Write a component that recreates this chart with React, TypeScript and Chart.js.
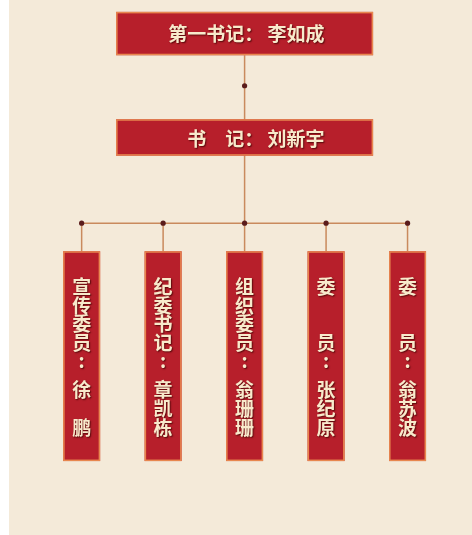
import React, { useEffect, useRef } from 'react';
import { Chart, registerables } from 'chart.js';

Chart.register(...registerables);

// ---- data ----
const leaderTitles = ['第一书记：', '书　记：'];
const leaderNames = ['李如成', '刘新宇'];
const memberTitles = ['宣传委员', '纪委书记', '组织委员', '委　　员', '委　　员'];
const memberNames = ['徐　鹏', '章凯栋', '翁珊珊', '张纪原', '翁苏波'];

// ---- layout / style ----
const W = 472;
const H = 535;
const STRIP = 9;
const X_MIN = -0.953;
const X_MAX = 4.742;
const CENTER_INDEX = (memberNames.length - 1) / 2;
const LEADER_BOXES = [
  { top: 8, bottom: 52, halfW: 128.5 },
  { top: 117, bottom: 154, halfW: 128.5 },
];
const MID_DOT_Y = 83;
const BRANCH_Y = 222.5;
const MEMBER_TOP = 251;
const MEMBER_BOTTOM = 464;
const MEMBER_HALF_W = 18.5;
const TITLE_Y0 = 287;
const STEP = 19;
const COLON_Y = 362;
const NAME_Y0 = 392;

const BG = '#f4ead9';
const RED = '#b71f2b';
const BORDER = '#e8874f';
const LINE = '#c98a5d';
const DOT = '#5a1c1c';
const TEXT = '#f8eacc';
const FONT = '"Noto Sans CJK SC", "Noto Sans", sans-serif';

export default function App() {
  const ref = useRef<HTMLCanvasElement | null>(null);

  useEffect(() => {
    document.body.style.margin = '0';
    const canvas = ref.current;
    if (!canvas) return;

    const n = memberNames.length;
    const dots = [
      ...memberNames.map((_, i) => ({ x: i, y: BRANCH_Y })),
      { x: CENTER_INDEX, y: MID_DOT_Y },
    ];

    const lineDs = (pts: { x: number; y: number }[]) => ({
      type: 'line' as const,
      data: pts,
      borderColor: LINE,
      borderWidth: 1.5,
      pointRadius: 0,
      showLine: true,
      order: 2,
    });

    const datasets: any[] = [
      {
        type: 'scatter',
        data: dots,
        pointRadius: 2.6,
        pointBackgroundColor: DOT,
        pointBorderWidth: 0,
        order: 0,
      },
      lineDs([
        { x: CENTER_INDEX, y: LEADER_BOXES[0].bottom },
        { x: CENTER_INDEX, y: BRANCH_Y },
      ]),
      lineDs([
        { x: 0, y: BRANCH_Y },
        { x: n - 1, y: BRANCH_Y },
      ]),
      ...memberNames.map((_, i) =>
        lineDs([
          { x: i, y: BRANCH_Y },
          { x: i, y: MEMBER_TOP },
        ])
      ),
    ];

    const orgPlugin = {
      id: 'org',
      beforeDraw(chart: any) {
        const c = chart.ctx;
        c.save();
        c.fillStyle = '#ffffff';
        c.fillRect(0, 0, W, H);
        c.fillStyle = BG;
        c.fillRect(STRIP, 0, W - STRIP, H);
        c.restore();
      },
      afterDatasetsDraw(chart: any) {
        const c = chart.ctx;
        const xs = chart.scales.x;
        const ys = chart.scales.y;
        const box = (x0: number, y0: number, x1: number, y1: number) => {
          c.fillStyle = RED;
          c.fillRect(x0, y0, x1 - x0, y1 - y0);
          c.strokeStyle = BORDER;
          c.lineWidth = 1.5;
          c.strokeRect(x0 + 0.75, y0 + 0.75, x1 - x0 - 1.5, y1 - y0 - 1.5);
        };
        const setText = () => {
          c.fillStyle = TEXT;
          c.shadowColor = 'rgba(70,5,5,0.85)';
          c.shadowOffsetX = 1;
          c.shadowOffsetY = 1;
          c.shadowBlur = 1.5;
          c.font = `bold 19px ${FONT}`;
          c.textBaseline = 'middle';
        };
        const noShadow = () => {
          c.shadowColor = 'transparent';
          c.shadowBlur = 0;
          c.shadowOffsetX = 0;
          c.shadowOffsetY = 0;
        };

        c.save();
        const cx = xs.getPixelForValue(CENTER_INDEX);
        LEADER_BOXES.forEach((b, k) => {
          noShadow();
          const t = ys.getPixelForValue(b.top);
          const bt = ys.getPixelForValue(b.bottom);
          box(cx - b.halfW, t, cx + b.halfW, bt);
          setText();
          c.textAlign = 'right';
          c.fillText(`${leaderTitles[k]} ${leaderNames[k]}`, cx + 80, (t + bt) / 2 + (k === 1 ? 1.5 : 0.5));
        });

        memberNames.forEach((name, i) => {
          noShadow();
          const px = xs.getPixelForValue(i);
          box(px - MEMBER_HALF_W, ys.getPixelForValue(MEMBER_TOP), px + MEMBER_HALF_W, ys.getPixelForValue(MEMBER_BOTTOM));
          setText();
          c.textAlign = 'center';
          Array.from(memberTitles[i]).forEach((ch, j) => {
            if (ch.trim() === '') return;
            c.fillText(ch, px, ys.getPixelForValue(TITLE_Y0 + j * STEP));
          });
          c.fillText(':', px, ys.getPixelForValue(COLON_Y));
          Array.from(name).forEach((ch, j) => {
            if (ch.trim() === '') return;
            c.fillText(ch, px, ys.getPixelForValue(NAME_Y0 + j * STEP));
          });
        });
        c.restore();
      },
    };

    const chart = new Chart(canvas, {
      type: 'scatter',
      data: { datasets },
      options: {
        animation: false,
        responsive: false,
        maintainAspectRatio: false,
        events: [],
        layout: { padding: 0 },
        plugins: { legend: { display: false }, tooltip: { enabled: false } },
        scales: {
          x: { type: 'linear', display: false, min: X_MIN, max: X_MAX },
          y: { type: 'linear', display: false, min: 0, max: H, reverse: true },
        },
      },
      plugins: [orgPlugin],
    });

    return () => chart.destroy();
  }, []);

  return (
    <div style={{ width: W, height: H }}>
      <canvas ref={ref} width={W} height={H} style={{ display: 'block', width: W, height: H }} />
    </div>
  );
}
